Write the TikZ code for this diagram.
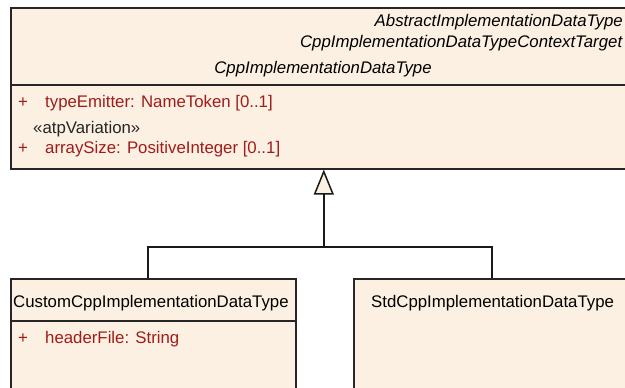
\documentclass[tikz,border=0pt]{standalone}
\usepackage{fontspec}
\setmainfont{Liberation Sans}
\usepackage{tikz}
\usetikzlibrary{positioning}
\usetikzlibrary{arrows.meta}
\definecolor{classfill}{RGB}{251,240,225}
\definecolor{attrred}{RGB}{160,28,28}

\begin{document}
\begin{tikzpicture}[x=1pt, y=-1pt,
classnode/.style={rectangle, draw=black!85, fill=classfill, line width=1.6pt, anchor=north west, inner sep=0pt},
nametext/.style={inner sep=0pt, font=\fontsize{16.8}{20}\selectfont},
attrtext/.style={inner sep=0pt, anchor=base west, text=attrred, font=\fontsize{16.8}{20}\selectfont},
stereotext/.style={inner sep=0pt, anchor=base west, text=black!85, font=\fontsize{16.8}{20}\selectfont},
divider/.style={draw=black!85, line width=1.6pt},
umlline/.style={draw=black!90, line width=1.5pt},
]
\useasboundingbox (0,0) rectangle (625,388);

%Nodes
\node[classnode, minimum width=626pt, minimum height=161pt]	(cpp)		at (10,7)		{};
\node[classnode, minimum width=285pt, minimum height=150pt]	(custom)	at (10,278)		{};
\node[classnode, minimum width=276pt, minimum height=150pt]	(std)		at (353,278)	{};

\node[nametext, anchor=base east]	(abstractlbl)	at (623,27)		{\textit{AbstractImplementationDataType}};
\node[nametext, anchor=base east]	(contextlbl)	at (623,48)		{\textit{CppImplementationDataTypeContextTarget}};
\node[nametext, anchor=base]		(cpplbl)		at (323,74)		{\textit{CppImplementationDataType}};

\node[attrtext]		(plus1)		at (18,107)		{+};
\node[attrtext]		(emitter)	at (45,107)		{typeEmitter: NameToken [0..1]};
\node[stereotext]	(variation)	at (33,133)		{«atpVariation»};
\node[attrtext]		(plus2)		at (18,153)		{+};
\node[attrtext]		(arraysize)	at (45,153)		{arraySize: PositiveInteger [0..1]};

\node[nametext, anchor=base west]	(customlbl)		at (13,307)		{CustomCppImplementationDataType};
\node[attrtext]		(plus3)		at (18,343)		{+};
\node[attrtext]		(header)	at (45,343)		{headerFile: String};
\node[nametext, anchor=base west]	(stdlbl)		at (371,307)	{StdCppImplementationDataType};

%Compartments
\draw[divider] (cpp.west |- 0,85) -- (cpp.east |- 0,85);
\draw[divider] (custom.west |- 0,321) -- (custom.east |- 0,321);

%Lines
\coordinate (join) at (cpp.south |- 0,247);
\coordinate (customtop) at (148,278);
\draw[umlline] (customtop) |- (join) -| (std.north);
\draw[umlline, -{Triangle[length=25pt, width=20pt, fill=classfill]}] (join) -- (cpp.south);
\end{tikzpicture}
\end{document}
